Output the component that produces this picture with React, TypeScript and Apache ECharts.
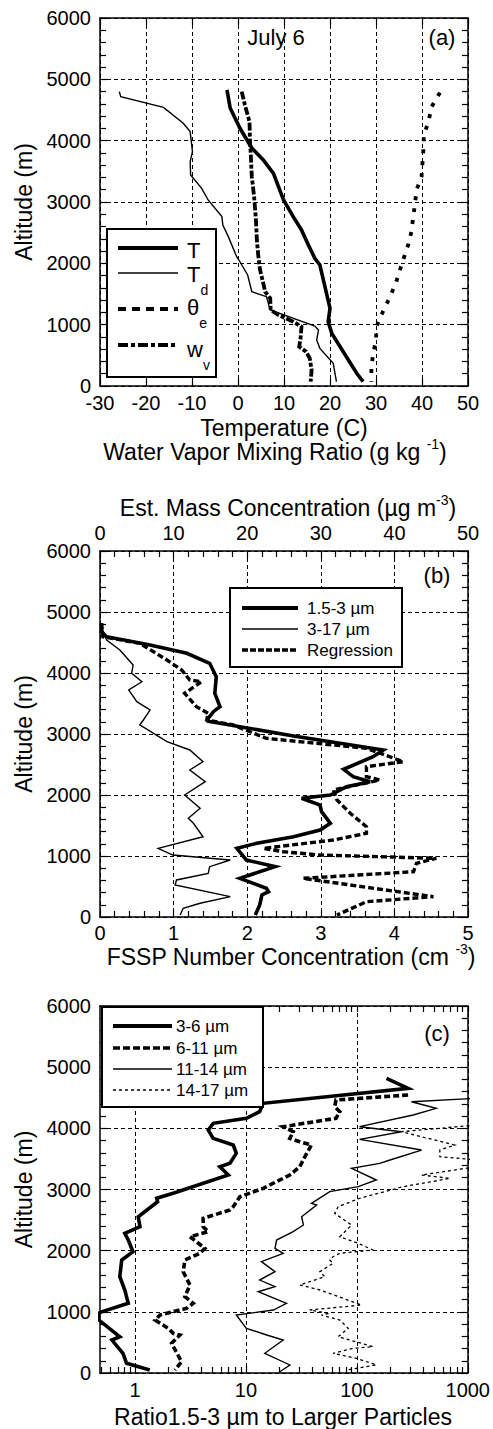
import React, { useEffect, useRef } from 'react';
import * as echarts from 'echarts';

const FONT = "'Liberation Sans', Arial, Helvetica, sans-serif";

// ---------- Panel (a) ----------
const tAlt = [4829, 4533, 4206, 3880, 3685, 3467, 3033, 2761, 2544, 2300, 2082, 1973, 1620, 1267, 1048, 858, 641, 424, 207, 70];
const tVal = [-2.4, -1.7, 0.4, 3.0, 5.5, 7.7, 9.9, 12.0, 13.8, 15.3, 16.7, 17.8, 18.9, 20.0, 19.6, 20.4, 22.2, 24.0, 25.8, 27.2];

const tdAlt = [4800, 4718, 4543, 4283, 4147, 3820, 3658, 3440, 3223, 3033, 2761, 2625, 2435, 2109, 2054, 1810, 1538, 1456, 1239, 978, 913, 750, 614, 370, 70];
const tdVal = [-25.8, -25.5, -16.2, -11.9, -10.4, -9.9, -10.4, -10.3, -7.9, -6.5, -3.5, -3.3, -2.1, -0.3, 0.2, 2.1, 3.0, 6.2, 7.0, 16.7, 17.5, 17.1, 17.8, 20.7, 21.4];

const thetaAlt = [4783, 4555, 4310, 4092, 3848, 3413, 3196, 2979, 2761, 2516, 2300, 2100, 1891, 1674, 1430, 1195, 967, 750, 533, 315, 70];
const thetaVal = [43.9, 42.1, 41.4, 40.4, 40.3, 39.9, 38.8, 38.5, 38.1, 37.7, 37.0, 36.1, 35.2, 34.3, 32.9, 31.4, 30.1, 30.0, 29.4, 29.0, 29.0];

const wvAlt = [4800, 4582, 4310, 4011, 3739, 3413, 3087, 2707, 2381, 2130, 1891, 1674, 1538, 1430, 1239, 1158, 1103, 1048, 967, 777, 641, 560, 451, 261, 70];
const wvVal = [0.8, 1.5, 2.5, 2.6, 2.8, 3.0, 3.5, 3.9, 4.1, 4.4, 4.8, 5.5, 5.9, 7.0, 7.1, 8.8, 10.4, 12.0, 13.8, 13.6, 13.3, 14.8, 15.6, 16.0, 15.8];

// ---------- Panel (b) ----------
const n153Alt = [4815, 4677, 4595, 4459, 4323, 4159, 3939, 3667, 3448, 3366, 3257, 3210, 2967, 2738, 2628, 2421, 2300, 2218, 2136, 2000, 1946, 1836, 1726, 1536, 1426, 1316, 1208, 1126, 934, 825, 634, 470, 415, 361, 197, 33];
const n153Val = [0.02, 0.02, 0.09, 0.68, 1.18, 1.49, 1.58, 1.56, 1.63, 1.54, 1.47, 1.47, 2.63, 3.85, 3.71, 3.31, 3.44, 3.67, 3.35, 3.13, 2.74, 2.99, 3.01, 3.13, 2.99, 2.63, 2.13, 1.86, 1.99, 2.38, 1.90, 2.26, 2.29, 2.20, 2.17, 2.11];

const n317Alt = [4759, 4541, 4377, 4131, 3995, 3857, 3721, 3530, 3393, 3230, 3150, 2874, 2738, 2546, 2410, 2218, 2000, 1782, 1618, 1536, 1316, 1126, 1016, 934, 825, 716, 607, 525, 333, 225, 143, 33];
const n317Val = [0.02, 0.09, 0.27, 0.45, 0.43, 0.57, 0.39, 0.50, 0.68, 0.59, 0.54, 0.91, 1.22, 1.40, 1.22, 1.43, 1.15, 1.36, 1.20, 1.27, 1.40, 0.79, 0.99, 1.77, 1.49, 1.47, 1.04, 1.02, 1.77, 1.36, 1.13, 1.09];

const regAlt = [4815, 4595, 4486, 4213, 4049, 3885, 3857, 3667, 3448, 3339, 3230, 3148, 2929, 2766, 2546, 2464, 2300, 2246, 2082, 1918, 1700, 1480, 1372, 1262, 1126, 1070, 1016, 962, 880, 743, 634, 333, 251, 33];
const regVal = [0.02, 0.04, 0.54, 0.91, 1.11, 1.22, 1.38, 1.15, 1.31, 1.47, 1.45, 1.81, 2.26, 3.62, 4.12, 3.62, 3.62, 3.80, 3.17, 3.22, 3.40, 3.62, 3.62, 3.17, 2.22, 2.49, 2.99, 4.57, 4.30, 4.26, 2.76, 4.53, 3.62, 3.22];

// ---------- Panel (c) ----------
const r36Alt = [4818, 4654, 4409, 4272, 4164, 4082, 3972, 3836, 3727, 3591, 3428, 3373, 3237, 2938, 2856, 2800, 2555, 2392, 2283, 2174, 1983, 1847, 1574, 1357, 1139, 1000, 976, 870, 593, 539, 322, 159, 49];
const r36Val = [185, 290, 14.3, 13.3, 10.1, 5.07, 4.58, 5.07, 7.69, 8.2, 7.18, 5.83, 6.94, 2.21, 1.57, 1.6, 1.07, 1.11, 0.81, 0.87, 0.96, 0.76, 0.73, 0.81, 0.87, 0.5, 0.47, 0.47, 0.73, 0.62, 0.78, 0.84, 1.36];

const r611Alt = [4545, 4463, 4354, 4272, 4164, 4027, 3945, 3836, 3782, 3727, 3591, 3373, 3237, 3019, 2882, 2719, 2665, 2528, 2392, 2310, 2228, 2038, 1957, 1847, 1656, 1439, 1248, 1139, 1057, 948, 866, 730, 649, 621, 485, 185, 49];
const r611Val = [290, 64.9, 63.2, 70.3, 64.9, 21.7, 26.7, 24.9, 30.6, 39.0, 35.3, 30.6, 24.9, 14.3, 8.83, 7.69, 7.18, 4.12, 4.12, 4.58, 3.13, 4.27, 3.85, 2.82, 2.72, 3.13, 2.82, 3.35, 2.92, 1.68, 1.52, 2.0, 2.21, 2.54, 2.14, 2.63, 2.29];

const r1114Alt = [4500, 4435, 4327, 4218, 4027, 3945, 3820, 3645, 3482, 3427, 3345, 3155, 3046, 2965, 2774, 2746, 2555, 2419, 2310, 2174, 2038, 1957, 1820, 1656, 1520, 1411, 1329, 1139, 1030, 948, 730, 621, 539, 322, 131, 21];
const r1114Val = [1500, 311, 519, 322, 106, 253, 106, 383, 199, 161, 89.7, 150, 103, 57, 39, 43.4, 31.8, 33, 26.7, 18.9, 18.3, 21.7, 13.8, 18.3, 13.3, 18.3, 12.9, 23.2, 17.7, 8.2, 10.1, 15.4, 21.7, 14.8, 24.9, 20.2];

const r1417Alt = [4070, 3945, 3727, 3645, 3536, 3470, 3400, 3237, 3182, 3046, 2856, 2719, 2610, 2419, 2228, 2120, 2011, 1957, 1902, 1847, 1793, 1656, 1574, 1439, 1357, 1221, 1111, 1030, 976, 948, 866, 730, 593, 485, 430, 403, 322, 240, 131, 76, 49];
const r1417Val = [1500, 253, 763, 560, 560, 1500, 1500, 383, 692, 262, 106, 67.9, 63.2, 89.7, 70.3, 103, 140, 70.3, 61.1, 57, 61.1, 46.4, 51.4, 30.6, 46.4, 75.2, 110, 37.7, 57, 48, 70.3, 83.7, 67.9, 110, 140, 92.6, 61.1, 99.2, 150, 99.2, 80.7];

// ---------- Tick values ----------
const logMajor = [1, 10, 100, 1000];
const logMinor = [0.5, 0.6, 0.7, 0.8, 0.9, 2, 3, 4, 5, 6, 7, 8, 9, 20, 30, 40, 50, 60, 70, 80, 90, 200, 300, 400, 500, 600, 700, 800, 900];

function pairs(xs: number[], ys: number[]) {
  return xs.map((x, i) => [x, ys[i]]);
}

const BLACK = '#000';
const axisLine = { show: true, onZero: false, lineStyle: { color: BLACK, width: 1.5 } };
const splitLine = { show: true, lineStyle: { color: BLACK, width: 1, type: [4, 3] } };
const tickLabel = { color: BLACK, fontSize: 20, fontFamily: FONT };
const plainFmt = (v: number) => String(v);

function yAxes(g: number) {
  return [
    {
      gridIndex: g, type: 'value', position: 'left', min: 0, max: 6000, interval: 1000,
      axisLine, axisTick: { show: true, inside: true, length: 7, lineStyle: { color: BLACK, width: 1.2 } },
      minorTick: { show: true, splitNumber: 5, length: 6, lineStyle: { color: BLACK, width: 1.2 } },
      axisLabel: { ...tickLabel, margin: 9, formatter: plainFmt },
      splitLine,
      name: 'Altitude (m)', nameLocation: 'middle', nameGap: 62, nameRotate: 90,
      nameTextStyle: { color: BLACK, fontSize: 23, fontFamily: FONT },
    },
    {
      gridIndex: g, type: 'value', position: 'right', min: 0, max: 6000, interval: 1000,
      axisLine, axisTick: { show: true, inside: true, length: 7, lineStyle: { color: BLACK, width: 1.2 } },
      minorTick: { show: true, splitNumber: 5, length: 6, lineStyle: { color: BLACK, width: 1.2 } },
      axisLabel: { show: false }, splitLine: { show: false },
    },
  ];
}

const tickStyle = { color: BLACK, width: 1.2 };

const xAxis: any[] = [
  // panel a
  {
    gridIndex: 0, type: 'value', position: 'bottom', min: -30, max: 50, interval: 10,
    axisLine, axisTick: { show: true, inside: true, length: 7, lineStyle: tickStyle },
    axisLabel: { ...tickLabel, margin: 7, formatter: plainFmt }, splitLine,
  },
  {
    gridIndex: 0, type: 'value', position: 'top', min: -30, max: 50, interval: 10,
    axisLine, axisTick: { show: true, inside: true, length: 7, lineStyle: tickStyle },
    axisLabel: { show: false }, splitLine: { show: false },
  },
  // panel b
  {
    gridIndex: 1, type: 'value', position: 'bottom', min: 0, max: 5, interval: 1,
    axisLine, axisTick: { show: true, inside: true, length: 7, lineStyle: tickStyle },
    minorTick: { show: true, splitNumber: 5, length: 6, lineStyle: tickStyle },
    axisLabel: { ...tickLabel, margin: 6, formatter: plainFmt }, splitLine,
  },
  {
    gridIndex: 1, type: 'value', position: 'top', min: 0, max: 50, interval: 10,
    axisLine, axisTick: { show: true, inside: true, length: 7, lineStyle: tickStyle },
    minorTick: { show: true, splitNumber: 5, length: 6, lineStyle: tickStyle },
    axisLabel: { ...tickLabel, margin: 8, formatter: plainFmt }, splitLine: { show: false },
  },
  // panel c
  {
    gridIndex: 2, type: 'log', logBase: 10, position: 'bottom', min: 0.484, max: 1000,
    axisLine, axisTick: { show: true, inside: true, length: 7, lineStyle: tickStyle, customValues: logMajor },
    axisLabel: { ...tickLabel, margin: 7, formatter: plainFmt, customValues: logMajor }, splitLine,
  },
  {
    gridIndex: 2, type: 'log', logBase: 10, position: 'bottom', min: 0.484, max: 1000,
    axisLine: { show: false, onZero: false },
    axisTick: { show: true, inside: true, length: 6, lineStyle: tickStyle, customValues: logMinor },
    axisLabel: { show: false }, splitLine: { show: false },
  },
  {
    gridIndex: 2, type: 'log', logBase: 10, position: 'top', min: 0.484, max: 1000,
    axisLine, axisTick: { show: true, inside: true, length: 6, lineStyle: tickStyle, customValues: [...logMinor, ...logMajor] },
    axisLabel: { show: false }, splitLine: { show: false },
  },
];

const yAxis: any[] = [...yAxes(0), ...yAxes(1), ...yAxes(2)];

function line(name: string, xi: number, yi: number, data: number[][], width: number, type: any) {
  return {
    name, type: 'line', xAxisIndex: xi, yAxisIndex: yi, data,
    showSymbol: false, symbol: 'none', smooth: false, clip: true,
    lineStyle: { color: BLACK, width, type, cap: 'butt', join: 'miter' },
    z: 5,
  };
}

const series = [
  line('T', 0, 0, pairs(tVal, tAlt), 3.6, 'solid'),
  line('Td', 0, 0, pairs(tdVal, tdAlt), 1.4, 'solid'),
  line('θe', 0, 0, pairs(thetaVal, thetaAlt), 3.8, [4, 8]),
  line('wv', 0, 0, pairs(wvVal, wvAlt), 3.8, [8, 2, 4, 2]),
  line('1.5-3 µm', 2, 2, pairs(n153Val, n153Alt), 3.6, 'solid'),
  line('3-17 µm', 2, 2, pairs(n317Val, n317Alt), 1.4, 'solid'),
  line('Regression', 2, 2, pairs(regVal, regAlt), 3.4, [6, 3]),
  line('3-6 µm', 4, 4, pairs(r36Val, r36Alt), 3.6, 'solid'),
  line('6-11 µm', 4, 4, pairs(r611Val, r611Alt), 3.6, [6, 3]),
  line('11-14 µm', 4, 4, pairs(r1114Val, r1114Alt), 1.4, 'solid'),
  line('14-17 µm', 4, 4, pairs(r1417Val, r1417Alt), 1.3, [3, 3]),
];

function txt(x: number, y: number, text: string, fontSize: number, align = 'center', rich?: any) {
  return {
    type: 'text', x, y, z: 120,
    style: {
      text, fontSize, fontFamily: FONT, fill: BLACK,
      align, verticalAlign: 'middle', rich,
    },
  };
}

function lgLine(x1: number, x2: number, y: number, width: number, dash?: number[]) {
  return {
    type: 'line', z: 120,
    shape: { x1, y1: y, x2, y2: y },
    style: { stroke: BLACK, lineWidth: width, lineDash: dash || null, lineCap: 'butt' },
  };
}

function box(x: number, y: number, w: number, h: number) {
  return {
    type: 'rect', z: 110,
    shape: { x, y, width: w, height: h },
    style: { fill: '#fff', stroke: BLACK, lineWidth: 2 },
  };
}

const subRich = {
  m: { fontSize: 22, fontFamily: FONT, fill: BLACK, lineHeight: 46 },
  s: { fontSize: 14, fontFamily: FONT, fill: BLACK, lineHeight: 14, verticalAlign: 'bottom' },
};
const supRich = {
  n: { fontSize: 23, fontFamily: FONT, fill: BLACK, lineHeight: 30 },
  s: { fontSize: 14, fontFamily: FONT, fill: BLACK, lineHeight: 14, verticalAlign: 'top' },
};

const graphic: any[] = [
  // panel a
  txt(276, 37, 'July 6', 22),
  txt(442, 37, '(a)', 22),
  box(107, 229, 109, 148),
  lgLine(118, 178, 248, 4),
  lgLine(118, 178, 273, 1.5),
  lgLine(118, 178, 309, 4, [8, 6]),
  lgLine(118, 178, 345, 4, [10, 3, 4, 3]),
  txt(187, 250, 'T', 22, 'left'),
  txt(187, 274, '{m|T}{s|d}', 22, 'left', subRich),
  txt(187, 307, '{m|θ}{s|e}', 22, 'left', subRich),
  txt(187, 349, '{m|w}{s|v}', 22, 'left', subRich),
  txt(284, 428, 'Temperature (C)', 23),
  txt(275, 452, '{n|Water Vapor Mixing Ratio (g kg }{s|-1}{n|)}', 23, 'center', supRich),
  // panel b
  txt(288, 508, '{n|Est. Mass Concentration (µg m}{s|-3}{n|)}', 23, 'center', supRich),
  txt(437, 575, '(b)', 22),
  box(230, 588, 172, 79),
  lgLine(242, 298, 608, 4),
  lgLine(242, 298, 629, 1.5),
  lgLine(242, 298, 650, 3.5, [6, 2]),
  txt(307, 608, '1.5-3 µm', 17, 'left'),
  txt(307, 629, '3-17 µm', 17, 'left'),
  txt(307, 650, 'Regression', 17, 'left'),
  txt(291, 957, '{n|FSSP Number Concentration (cm }{s|-3}{n|)}', 23, 'center', supRich),
  // panel c
  txt(437, 1033, '(c)', 22),
  box(102, 1007, 161, 100),
  lgLine(113, 172, 1026, 4),
  lgLine(113, 172, 1048, 3.5, [7, 3]),
  lgLine(113, 172, 1069, 1.5),
  lgLine(113, 172, 1090, 1.3, [3, 3]),
  txt(176, 1026, '3-6 µm', 17, 'left'),
  txt(176, 1048, '6-11 µm', 17, 'left'),
  txt(176, 1069, '11-14 µm', 17, 'left'),
  txt(176, 1090, '14-17 µm', 17, 'left'),
  txt(283, 1417, 'Ratio1.5-3 µm to Larger Particles', 23),
];

const option: any = {
  animation: false,
  backgroundColor: '#fff',
  textStyle: { fontFamily: FONT },
  grid: [
    { left: 100, top: 18, width: 368, height: 368, containLabel: false },
    { left: 100, top: 551, width: 368, height: 366, containLabel: false },
    { left: 100, top: 1006, width: 368, height: 367, containLabel: false },
  ],
  xAxis,
  yAxis,
  series,
  graphic,
};

export default function App() {
  const ref = useRef<HTMLDivElement>(null);
  useEffect(() => {
    if (!ref.current) return;
    const chart = echarts.init(ref.current, null, { renderer: 'svg' });
    chart.setOption(option);
    return () => chart.dispose();
  }, []);
  return (
    <div
      ref={ref}
      style={{ position: 'absolute', left: 0, top: 0, width: 493, height: 1429, background: '#fff' }}
    />
  );
}
